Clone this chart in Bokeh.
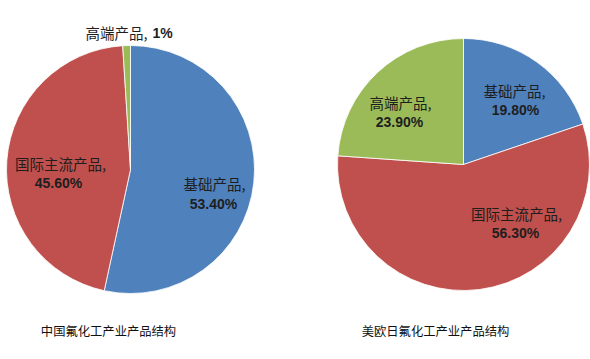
import math
from bokeh.plotting import figure
from bokeh.models import Range1d, ColumnDataSource
from bokeh.core.properties import value
from bokeh.embed import file_html
from bokeh.resources import INLINE

# ---- data ----
categories = ["基础产品", "国际主流产品", "高端产品"]
china_values = [53.4, 45.6, 1.0]
china_labels = ["53.40%", "45.60%", "1%"]
west_values = [19.8, 56.3, 23.9]
west_labels = ["19.80%", "56.30%", "23.90%"]
colors = ["#4F81BD", "#C0504D", "#9BBB59"]
titles = ["中国氟化工产业产品结构", "美欧日氟化工产业产品结构"]

W, H = 590, 359
p = figure(width=W, height=H, output_backend="svg", toolbar_location=None,
           x_range=Range1d(0, W), y_range=Range1d(0, H),
           min_border=0)
p.axis.visible = False
p.grid.visible = False
p.outline_line_color = None
p.background_fill_color = "white"

def Y(y_page):
    return H - y_page

def pie(cx, cy, r, vals):
    tot = sum(vals)
    cum = 0.0
    starts, ends = [], []
    for v in vals:
        starts.append(math.pi / 2 - 2 * math.pi * cum / tot)
        cum += v
        ends.append(math.pi / 2 - 2 * math.pi * cum / tot)
    src = ColumnDataSource(dict(s=starts, e=ends, c=colors))
    p.wedge(x=cx, y=Y(cy), radius=r, start_angle="s", end_angle="e",
            direction="clock", fill_color="c", line_color="white",
            line_width=0.8, source=src)

pie(130, 169, 124, china_values)
pie(463, 164, 126, west_values)

cjk = value("Noto Sans CJK SC")
num = value("Liberation Sans")

def label(x, y, text, font, size="14.5px", style="normal", color="#1e1e1e",
          align="center"):
    p.text(x=[x], y=[Y(y)], text=[text], text_font=font, text_font_size=size,
           text_font_style=style, text_color=color, text_align=align,
           text_baseline="middle")

NS = "14px"
# China pie labels (layout positions)
label(214, 183, categories[0] + ",", cjk)
label(213, 203, china_labels[0], num, NS, "bold")
label(60, 163, categories[1] + ",", cjk)
label(58, 182, china_labels[1], num, NS, "bold")
label(116, 32, categories[2] + ",", cjk)
label(152, 32, china_labels[2], num, NS, "bold", align="left")

# West pie labels
label(514, 90, categories[0] + ",", cjk)
label(515, 109, west_labels[0], num, NS, "bold")
label(516, 213, categories[1] + ",", cjk)
label(515, 232, west_labels[1], num, NS, "bold")
label(400, 102, categories[2] + ",", cjk)
label(399, 121, west_labels[2], num, NS, "bold")

# titles
label(108, 330, titles[0], cjk, "12.3px", color="#111111")
label(435, 330, titles[1], cjk, "12.3px", color="#111111")

open("out.html", "w").write(file_html(p, INLINE))
